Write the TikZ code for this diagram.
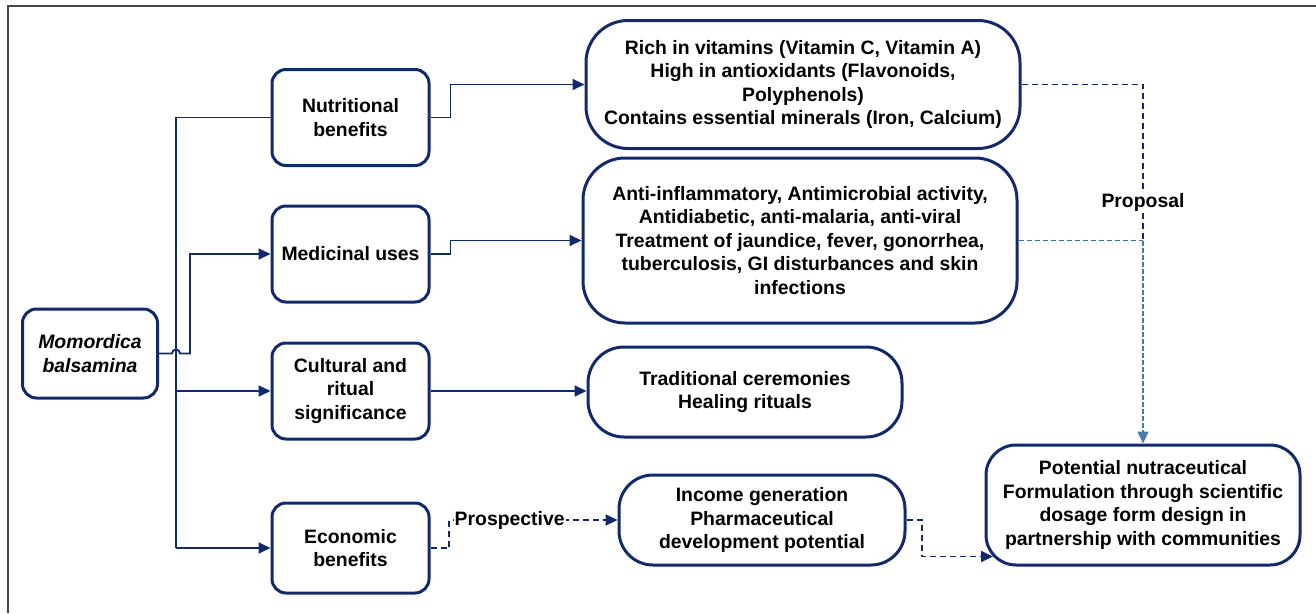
\documentclass[tikz,border=0pt]{standalone}
\usepackage{fontspec}
\setmainfont{Liberation Sans}
\usetikzlibrary{arrows.meta,calc}
\definecolor{navy}{RGB}{18,42,108}
\definecolor{steel}{RGB}{70,122,172}
\definecolor{midblue}{RGB}{62,110,172}
\definecolor{framegray}{RGB}{70,70,70}
\tikzset{
  box/.style={draw=navy, line width=3pt, rounded corners=#1, align=center,
    font=\fontsize{19.4}{23.5}\selectfont\bfseries, inner sep=0pt, text=black},
  box/.default=14pt,
  conn/.style={draw=navy, line width=1.9pt},
  tip/.style={-{Triangle[length=12pt,width=11pt]}},
  dsh/.style={dash pattern=on 6pt off 4pt},
  lbl/.style={fill=white, inner sep=1pt, font=\fontsize{19.4}{23.5}\selectfont\bfseries}
}
\begin{document}
\begin{tikzpicture}[x=1pt,y=-1pt]
\useasboundingbox (0,0) rectangle (1316,613);
\draw[framegray, line width=1.6pt] (8,613) -- (8,6) -- (1316,6);

% left column
\node[box, minimum width=135pt, minimum height=89pt] (mom) at (90,353.5)
  {\itshape Momordica\\\itshape balsamina};
\node[box, minimum width=157pt, minimum height=96pt] (nut) at (350.5,117.5)
  {Nutritional\\benefits};
\node[box, minimum width=157pt, minimum height=96pt] (med) at (350.5,254)
  {Medicinal uses};
\node[box, minimum width=157pt, minimum height=96pt] (cul) at (350.5,391)
  {Cultural and\\ritual\\significance};
\node[box, minimum width=157pt, minimum height=90pt] (eco) at (350.5,548)
  {Economic\\benefits};

% detail boxes
\node[box=42pt, minimum width=434pt, minimum height=128pt] (nutd) at (803,84.5)
  {Rich in vitamins (Vitamin C, Vitamin A)\\High in antioxidants (Flavonoids,\\Polyphenols)\\Contains essential minerals (Iron, Calcium)};
\node[box=42pt, minimum width=434pt, minimum height=165pt] (medd) at (800,240.5)
  {Anti-inflammatory, Antimicrobial activity,\\Antidiabetic, anti-malaria, anti-viral\\Treatment of jaundice, fever, gonorrhea,\\tuberculosis, GI disturbances and skin\\infections};
\node[box=36pt, minimum width=314pt, minimum height=90pt] (trad) at (745,392)
  {Traditional ceremonies\\Healing rituals};
\node[box=34pt, minimum width=286pt, minimum height=90pt] (inc) at (762,520)
  {Income generation\\Pharmaceutical\\development potential};
\node[box=30pt, minimum width=314pt, minimum height=120pt] (pot) at (1143,505)
  {Potential nutraceutical\\Formulation through scientific\\dosage form design in\\partnership with communities};

% trunk
\coordinate (ttop) at (176,117.5);
\coordinate (tcul) at (176,391);
\coordinate (teco) at (176,548);
\draw[conn] (nut.west) -- (ttop) -- (teco);
\draw[conn, tip] (tcul) -- (cul.west);
\draw[conn, tip] (teco) -- (eco.west);

% Momordica to medicinal with hop
\coordinate (hop) at (172,353.5);
\coordinate (mcol) at (190,353.5);
\draw[conn, tip] (mom.east) -- (hop) arc[start angle=180, end angle=0, radius=4pt] -- (mcol) |- (med.west);

% to detail boxes
\draw[conn, tip] (nut.east) -- ++(20,0) |- (nutd.west);
\draw[conn, tip] (med.east) -- ++(20,0) |- (medd.west);
\draw[conn, tip] (cul.east) -- (cul.east -| trad.west);

% economic dashed
\coordinate (ecor) at (449,548);
\draw[conn, dsh, tip] (eco.east) -- (ecor) |- (inc.west)
  node[lbl, pos=0.68] {Prospective};

% income to potential
\coordinate (icor) at (922,520);
\coordinate (pin) at (993,556.5);
\draw[conn, dsh, tip] (inc.east) -- (icor) |- (pin);

% proposal
\coordinate (pcol) at (1143,84.5);
\coordinate (pmid) at (1143,240.5);
\draw[conn, dsh] (nutd.east) -- (pcol) -- (pmid);
\draw[draw=midblue, line width=1.4pt, dash pattern=on 5pt off 3pt] (medd.east) -- (pmid);
\draw[draw=steel, line width=1.4pt, dash pattern=on 5pt off 2pt, -{Triangle[length=12pt,width=11pt]}] (pmid) -- (pot.north);
\node[lbl] (prop) at (1143,202) {Proposal};
\end{tikzpicture}
\end{document}
